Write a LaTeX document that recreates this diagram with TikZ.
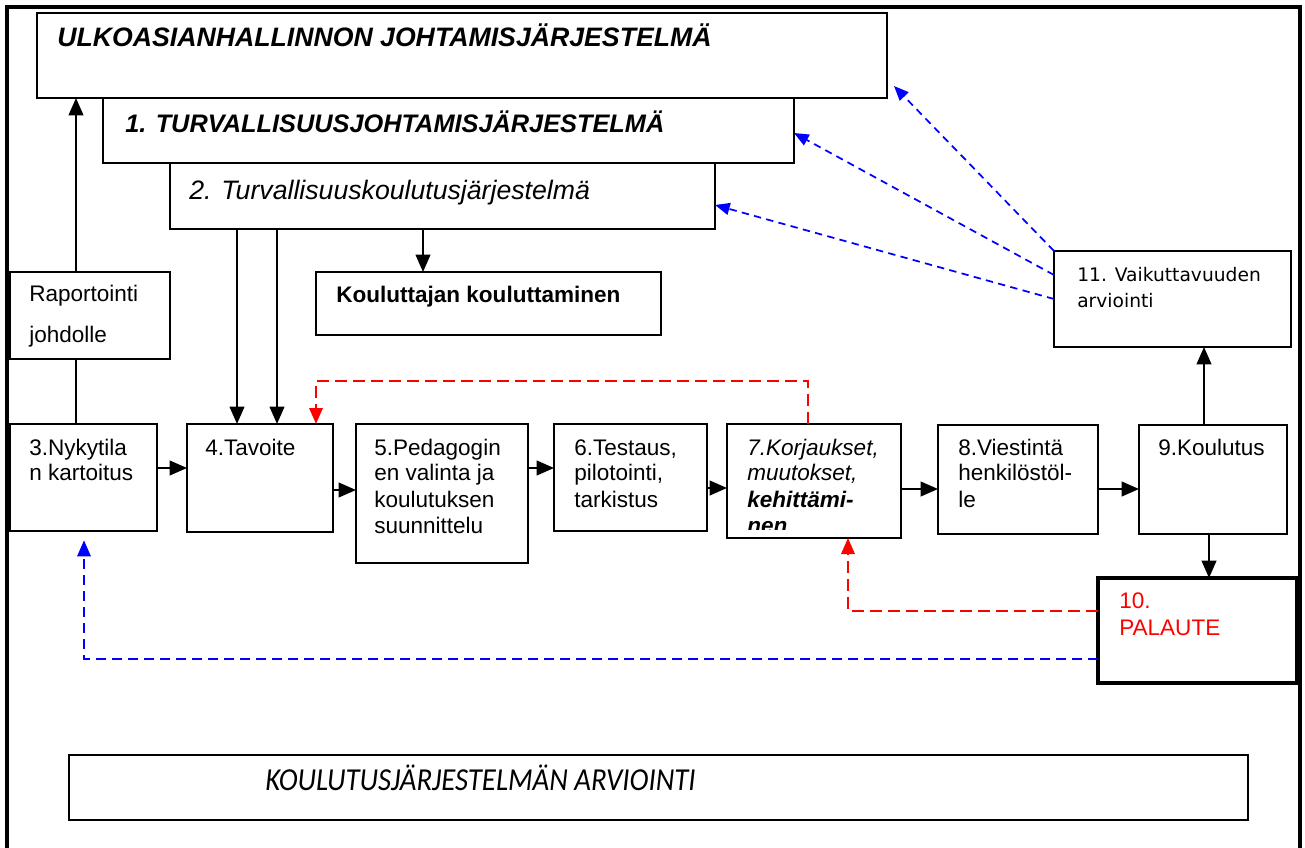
\documentclass[tikz,border=0pt]{standalone}
\usepackage{fontspec}
\setmainfont{Liberation Sans}
\newfontfamily\dejavu{DejaVu Sans}
\newfontfamily\narrowit[FakeStretch=0.9]{Carlito}
\usetikzlibrary{arrows.meta,fit}

\definecolor{fbred}{RGB}{255,0,0}
\definecolor{fbblue}{RGB}{0,0,255}

\tikzset{
  panel/.style={draw, line width=1.6pt, inner sep=0pt, outer sep=0pt},
  heavypanel/.style={panel, line width=2.4pt},
  txt/.style={anchor=base west, inner sep=0pt, font=\fontsize{16.9}{20}\selectfont},
  arr/.style={line width=1.5pt, -{Triangle[length=13pt,width=11pt]}},
  plain/.style={line width=1.5pt},
  redback/.style={draw=fbred, line width=1.7pt, dash pattern=on 9pt off 4.5pt,
                  -{Triangle[length=12pt,width=10pt]}},
  blueback/.style={draw=fbblue, line width=1.7pt, dash pattern=on 7.5pt off 4.5pt,
                   -{Triangle[length=12pt,width=10pt]}},
  bluediag/.style={draw=fbblue, line width=1.3pt, dash pattern=on 5.5pt off 4pt,
                   -{Triangle[length=11pt,width=9pt]}}
}

\begin{document}
\begin{tikzpicture}[x=0.75pt,y=-0.75pt]
\useasboundingbox (0,0) rectangle (1305,848);
\fill[white] (0,0) rectangle (1305,848);

% outer frame (runs off the bottom edge)
\draw[line width=2.6pt] (7,870) -- (7,7) -- (1300,7) -- (1300,870);

% helper coordinates for connector positions
\coordinate (x76) at (76,0);
\coordinate (x237) at (237,0);
\coordinate (x277) at (277,0);
\coordinate (x423) at (423,0);
\coordinate (x1204) at (1204,0);
\coordinate (x1209) at (1209,0);
\coordinate (y468) at (0,468);
\coordinate (y490) at (0,490);
\coordinate (y488) at (0,488);
\coordinate (y489) at (0,489);
\coordinate (y275) at (0,275);
\coordinate (y299) at (0,299);
\coordinate (y133) at (0,133);
\coordinate (y205) at (0,205);

% system boxes
\node[panel, fit={(37,13) (887,98)}] (ulko) {};
\node[panel, fit={(103,98) (794,163)}] (turv) {};
\node[panel, fit={(170,163) (715,229)}] (kts) {};
\node[panel, fit={(10,272) (170,359)}] (rap) {};
\node[panel, fit={(316,272) (661,335)}] (kk) {};
\node[panel, fit={(1054,251) (1291,347)}] (b11) {};

% process chain
\node[panel, fit={(10,424) (157,531)}] (b3) {};
\node[panel, fit={(187,424) (333,532)}] (b4) {};
\node[panel, fit={(356,424) (528,563)}] (b5) {};
\node[panel, fit={(554,424) (707,531)}] (b6) {};
\node[panel, fit={(727,424) (901,538)}] (b7) {};
\node[panel, fit={(938,425) (1098,534)}] (b8) {};
\node[panel, fit={(1139,425) (1287,534)}] (b9) {};
\node[heavypanel, fit={(1098,578) (1297,683)}] (b10) {};
\node[panel, fit={(69,755) (1248,820)}] (ark) {};

% texts
\node[txt, font=\fontsize{20}{24}\selectfont\bfseries\itshape] (tulko) at (57,47) {ULKOASIANHALLINNON JOHTAMISJÄRJESTELMÄ};
\node[txt, font=\fontsize{19}{23}\selectfont\bfseries\itshape] (tturv) at (125,133) {1. TURVALLISUUSJOHTAMISJÄRJESTELMÄ};
\node[txt, font=\fontsize{20}{24}\selectfont\itshape] (tkts) at (189,200) {2. Turvallisuuskoulutusjärjestelmä};

\node[txt] (trap1) at (29,302) {Raportointi};
\node[txt] (trap2) at (29,342) {johdolle};
\node[txt, font=\fontsize{16.9}{20}\selectfont\bfseries] (tkk) at (336,303) {Kouluttajan kouluttaminen};

\node[txt] (t3a) at (29,455) {3.Nykytila};
\node[txt] (t3b) at (29,480) {n kartoitus};
\node[txt] (t4) at (205,455) {4.Tavoite};
\node[txt] (t5a) at (374,455) {5.Pedagogin};
\node[txt] (t5b) at (374,480) {en valinta ja};
\node[txt] (t5c) at (374,507) {koulutuksen};
\node[txt] (t5d) at (374,533) {suunnittelu};
\node[txt] (t6a) at (574,455) {6.Testaus,};
\node[txt] (t6b) at (574,480) {pilotointi,};
\node[txt] (t6c) at (574,507) {tarkistus};
\node[txt, font=\fontsize{16.9}{20}\selectfont\itshape] (t7a) at (747,455) {7.Korjaukset,};
\node[txt, font=\fontsize{16.9}{20}\selectfont\itshape] (t7b) at (747,480) {muutokset,};
\node[txt, font=\fontsize{16.9}{20}\selectfont\bfseries\itshape] (t7c) at (747,507) {kehittämi-};
\begin{scope}
  \clip (727,424) rectangle (901,529);
  \node[txt, font=\fontsize{16.9}{20}\selectfont\bfseries\itshape] (t7d) at (747,533) {nen};
\end{scope}
\node[txt] (t8a) at (958,455) {8.Viestintä};
\node[txt] (t8b) at (958,480) {henkilöstöl-};
\node[txt] (t8c) at (958,507) {le};
\node[txt] (t9) at (1158,455) {9.Koulutus};
\node[txt, text=fbred] (t10a) at (1119,608) {10.};
\node[txt, text=fbred] (t10b) at (1119,635) {PALAUTE};
\node[txt, font=\fontsize{14}{17}\dejavu] (t11a) at (1077,282) {11. Vaikuttavuuden};
\node[txt, font=\fontsize{14}{17}\dejavu] (t11b) at (1077,307) {arviointi};
\node[txt, font=\fontsize{24}{28}\narrowit\itshape] (tark) at (265,790) {KOULUTUSJÄRJESTELMÄN ARVIOINTI};

% reporting line
\draw[plain] (b3.north -| x76) -- (rap.south -| x76);
\draw[arr] (rap.north -| x76) -- (ulko.south -| x76);

% from the training system downwards
\draw[arr] (kts.south -| x237) -- (b4.north -| x237);
\draw[arr] (kts.south -| x277) -- (b4.north -| x277);
\draw[arr] (kts.south -| x423) -- (kk.north -| x423);

% main chain
\draw[arr] (b3.east |- y468) -- (b4.west |- y468);
\draw[arr] (b4.east |- y490) -- (b5.west |- y490);
\draw[arr] (b5.east |- y468) -- (b6.west |- y468);
\draw[arr] (b6.east |- y488) -- (b7.west |- y488);
\draw[arr] (b7.east |- y489) -- (b8.west |- y489);
\draw[arr] (b8.east |- y489) -- (b9.west |- y489);
\draw[arr] (b9.north -| x1204) -- (b11.south -| x1204);
\draw[arr] (b9.south -| x1209) -- (b10.north -| x1209);

% feedback loops
\coordinate (r1) at (808,381);
\coordinate (r2) at (316,381);
\draw[redback] (b7.north -| r1) -- (r1) -- (r2) -- (b4.north -| r2);
\coordinate (r3) at (848,611);
\draw[redback] (b10.west |- r3) -- (r3) -- (b7.south -| r3);
\coordinate (bl) at (84,659);
\draw[blueback, shorten >=7pt] (b10.west |- bl) -- (bl) -- (b3.south -| bl);

% effectiveness evaluation back to the systems
\coordinate (tipulko) at (894,86);
\draw[bluediag] (b11.north west) -- (tipulko);
\draw[bluediag] (b11.west |- y275) -- (turv.east |- y133);
\draw[bluediag] (b11.west |- y299) -- (kts.east |- y205);
\end{tikzpicture}
\end{document}
